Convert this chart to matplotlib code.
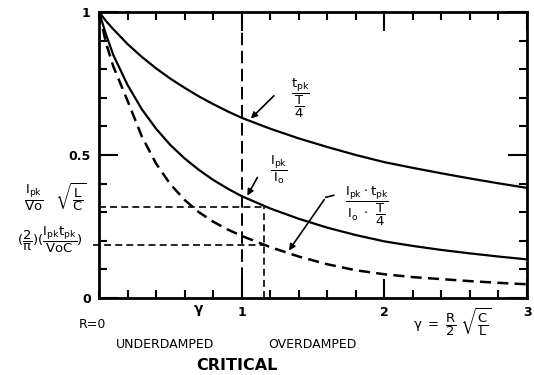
import matplotlib
matplotlib.use("Agg")
import matplotlib.pyplot as plt
import numpy as np

# ---- data ----
gamma = [0, 0.05, 0.1, 0.2, 0.3, 0.4, 0.5, 0.6, 0.7, 0.8, 0.9, 1.0,
         1.2, 1.4, 1.6, 1.8, 2.0, 2.2, 2.4, 2.6, 2.8, 3.0]
tpk_ratio = [1.0, 0.968, 0.94, 0.888, 0.843, 0.803, 0.767, 0.735, 0.705, 0.678, 0.653, 0.630,
             0.592, 0.558, 0.528, 0.500, 0.475, 0.455, 0.436, 0.418, 0.401, 0.385]
ipk_ratio = [1.0, 0.92, 0.85, 0.745, 0.66, 0.592, 0.535, 0.488, 0.448, 0.413, 0.383, 0.356,
             0.313, 0.277, 0.246, 0.220, 0.198, 0.182, 0.168, 0.156, 0.145, 0.135]
prod_ratio = [1.0, 0.89, 0.81, 0.69, 0.565, 0.47, 0.398, 0.343, 0.300, 0.267, 0.240, 0.217,
              0.178, 0.145, 0.118, 0.097, 0.083, 0.073, 0.066, 0.059, 0.053, 0.048]

critical_gamma = 1.0
marked_gamma = 1.16
marked_ipk = 0.318
marked_prod = 0.186

xtick_vals = [1, 2, 3]
xtick_labels = ["1", "2", "3"]
ytick_vals = [0, 0.5, 1]
ytick_labels = ["0", "0.5", "1"]

plt.rcParams['font.family'] = ['DejaVu Sans']
plt.rcParams['mathtext.fontset'] = 'dejavusans'
plt.rcParams['mathtext.default'] = 'regular'
plt.rcParams['lines.scale_dashes'] = False

W, H = 534, 375
fig = plt.figure(figsize=(W / 100, H / 100), dpi=100)
ax = fig.add_axes([99 / W, 1 - 298 / H, (527 - 99) / W, (298 - 12) / H])
ax.set_xlim(0, 3)
ax.set_ylim(0, 1)

k = 'black'
ax.plot(gamma, tpk_ratio, color=k, lw=1.6)
ax.plot(gamma, ipk_ratio, color=k, lw=1.6)
ax.plot(gamma, prod_ratio, color=k, lw=1.8, dashes=(8, 4.5))

# reference dashed lines
ax.plot([critical_gamma, critical_gamma], [0, 1], color=k, lw=1.4, dashes=(9, 4))
ax.plot([marked_gamma, marked_gamma], [0, marked_ipk], color=k, lw=1.2, dashes=(5, 3))
ax.plot([0, marked_gamma], [marked_ipk, marked_ipk], color=k, lw=1.2, dashes=(5, 3))
ax.plot([-0.04, marked_gamma], [marked_prod, marked_prod], color=k, lw=1.2, dashes=(5, 3),
        clip_on=False)

for s in ax.spines.values():
    s.set_linewidth(2)

ax.set_xticks(xtick_vals)
ax.set_xticklabels(xtick_labels, fontweight='bold', fontsize=9)
ax.set_yticks(ytick_vals)
ax.set_yticklabels(ytick_labels, fontweight='bold', fontsize=9)
ax.set_xticks(np.arange(0, 3.01, 0.2), minor=True)
ax.set_yticks(np.arange(0, 1.01, 0.1), minor=True)
ax.tick_params(which='both', direction='in', top=True, right=True, width=1.5)
ax.tick_params(which='major', length=14, pad=6)
ax.tick_params(which='minor', length=6)

# arrows / curve labels
def tip(xv, ys):
    return (xv, float(np.interp(xv, gamma, ys)))

fs = 9.5
ax.annotate('', xy=tip(1.05, tpk_ratio), xytext=(1.24, 0.714),
            arrowprops=dict(arrowstyle='-|>', color=k, lw=1.2, mutation_scale=9))
ax.text(1.41, 0.70, r'$\dfrac{t_{pk}}{\dfrac{T}{4}}$', fontsize=fs, ha='center', va='center')

ax.annotate('', xy=tip(1.03, ipk_ratio), xytext=(1.12, 0.43),
            arrowprops=dict(arrowstyle='-|>', color=k, lw=1.2, mutation_scale=9))
ax.text(1.26, 0.45, r'$\dfrac{I_{pk}}{I_o}$', fontsize=fs, ha='center', va='center')

ax.plot([1.59, 1.645], [0.352, 0.359], color=k, lw=1.2)
ax.annotate('', xy=tip(1.32, prod_ratio), xytext=(1.59, 0.352),
            arrowprops=dict(arrowstyle='-|>', color=k, lw=1.2, mutation_scale=9))
ax.text(1.88, 0.32, r'$\dfrac{I_{pk}\cdot t_{pk}}{I_o\ \cdot\ \dfrac{T}{4}}$', fontsize=fs,
        ha='center', va='center')

# left side labels
fig.text(55 / W, 1 - 198 / H, r'$\dfrac{I_{pk}}{Vo}\ \ \ \sqrt{\dfrac{L}{C}}$', fontsize=fs,
         ha='center', va='center')
fig.text(50 / W, 1 - 240 / H, r'$(\dfrac{2}{\pi})(\dfrac{I_{pk}t_{pk}}{VoC})$', fontsize=fs,
         ha='center', va='center')

# bottom labels
fig.text(92 / W, 1 - 325 / H, 'R=0', fontsize=9, ha='center', va='center')
fig.text(199 / W, 1 - 310 / H, r'$\gamma$', fontsize=10, ha='center', va='center',
         fontweight='bold')
fig.text(452 / W, 1 - 323 / H, r'$\gamma\ =\ \dfrac{R}{2}\ \sqrt{\dfrac{C}{L}}$', fontsize=fs,
         ha='center', va='center')
fig.text(165 / W, 1 - 344 / H, 'UNDERDAMPED', fontsize=9, ha='center', va='center')
fig.text(312 / W, 1 - 345 / H, 'OVERDAMPED', fontsize=9, ha='center', va='center')
fig.text(237 / W, 1 - 365 / H, 'CRITICAL', fontsize=11.5, fontweight='bold',
         ha='center', va='center')

fig.savefig('out.png', dpi=100)
